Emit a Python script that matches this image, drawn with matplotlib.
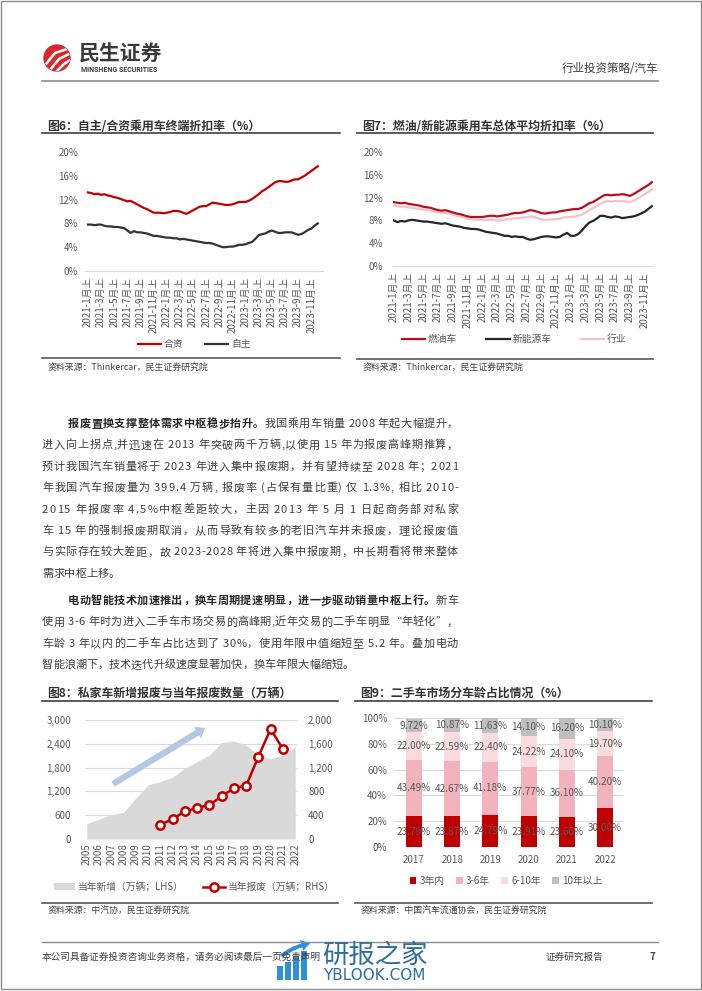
import matplotlib
matplotlib.use('Agg')
import matplotlib.pyplot as plt
import numpy as np
from matplotlib.patches import Circle, FancyArrowPatch, Rectangle
from matplotlib.font_manager import FontProperties
from matplotlib.ticker import FuncFormatter

plt.rcParams['font.family'] = ['Noto Sans CJK SC', 'DejaVu Sans']
plt.rcParams['axes.unicode_minus'] = False

W, H = 702, 991
GRAY_TXT = '#595959'
DARK = '#404040'

# ---------------- data ----------------
# 图6 / 图7: semi-monthly, 2021-1月上 ... 2023-12月上
tick_labels_67 = ['2021-1月上', '2021-3月上', '2021-5月上', '2021-7月上', '2021-9月上', '2021-11月上',
                  '2022-1月上', '2022-3月上', '2022-5月上', '2022-7月上', '2022-9月上', '2022-11月上',
                  '2023-1月上', '2023-3月上', '2023-5月上', '2023-7月上', '2023-9月上', '2023-11月上']

hezi = [13.2, 13.1, 12.9, 13.0, 12.8, 12.9, 12.7, 12.6, 12.4, 12.3, 12.1, 11.9, 11.7, 11.8, 11.5, 11.2,
        10.9, 10.6, 10.4, 10.1, 9.8, 9.8, 9.8, 9.7, 9.8, 9.9, 10.1, 10.1, 10.0, 9.8, 9.6, 9.9,
        10.2, 10.5, 10.8, 10.9, 10.9, 11.2, 11.5, 11.4, 11.3, 11.2, 11.1, 11.1, 11.2, 11.4, 11.6, 11.6,
        11.6, 11.8, 12.1, 12.5, 12.9, 13.4, 13.7, 14.1, 14.5, 14.9, 15.1, 15.1, 15.0, 15.0, 15.2, 15.4,
        15.4, 15.7, 16.0, 16.4, 16.8, 17.2, 17.6]
zizhu = [7.8, 7.8, 7.7, 7.8, 7.8, 7.6, 7.5, 7.5, 7.4, 7.4, 7.3, 7.2, 6.8, 6.4, 6.7, 6.5,
         6.5, 6.4, 6.3, 6.1, 5.9, 5.9, 5.8, 5.7, 5.6, 5.6, 5.5, 5.5, 5.3, 5.4, 5.3, 5.2,
         5.1, 5.0, 4.9, 4.8, 4.7, 4.7, 4.6, 4.4, 4.2, 4.0, 4.0, 4.1, 4.1, 4.2, 4.4, 4.4,
         4.5, 4.7, 4.9, 5.4, 6.0, 6.2, 6.3, 6.6, 6.8, 6.6, 6.4, 6.4, 6.5, 6.5, 6.5, 6.3,
         6.1, 6.2, 6.5, 6.9, 7.1, 7.6, 8.0]

ranyou = [11.2, 11.1, 11.0, 11.1, 10.9, 10.8, 10.7, 10.6, 10.4, 10.3, 10.2, 10.0, 9.8, 9.7, 9.8, 9.6,
          9.4, 9.2, 9.1, 8.9, 8.7, 8.6, 8.6, 8.6, 8.6, 8.7, 8.8, 8.8, 8.7, 8.8, 8.9, 9.0,
          9.2, 9.3, 9.3, 9.4, 9.6, 9.8, 9.7, 9.5, 9.3, 9.2, 9.3, 9.4, 9.4, 9.6, 9.7, 9.8,
          9.9, 10.0, 10.0, 10.2, 10.6, 11.0, 11.2, 11.6, 12.0, 12.4, 12.5, 12.4, 12.5, 12.5, 12.6, 12.5,
          12.3, 12.6, 13.0, 13.4, 13.8, 14.2, 14.7]
xinnengyuan = [8.0, 7.7, 7.9, 7.8, 8.0, 8.1, 8.0, 7.9, 7.8, 7.8, 7.7, 7.6, 7.5, 7.4, 7.5, 7.3,
               7.1, 7.0, 6.9, 6.7, 6.6, 6.5, 6.5, 6.4, 6.2, 6.0, 5.9, 5.8, 5.7, 5.5, 5.3, 5.3,
               5.1, 5.2, 5.1, 5.1, 4.8, 4.6, 4.7, 4.9, 5.1, 5.2, 5.2, 5.1, 5.0, 5.1, 5.5, 5.8,
               5.3, 5.3, 5.6, 6.2, 7.0, 7.6, 7.9, 8.3, 8.8, 8.8, 8.6, 8.5, 8.7, 8.6, 8.4, 8.5,
               8.6, 8.7, 8.9, 9.2, 9.5, 10.0, 10.5]
hangye = [10.6, 10.5, 10.4, 10.4, 10.3, 10.2, 10.1, 10.0, 9.9, 9.8, 9.7, 9.6, 9.4, 9.3, 9.3, 9.2,
          9.0, 8.8, 8.7, 8.5, 8.3, 8.2, 8.1, 8.1, 8.1, 8.1, 8.1, 8.1, 8.0, 8.0, 8.1, 8.2,
          8.3, 8.4, 8.4, 8.5, 8.6, 8.7, 8.6, 8.4, 8.2, 8.1, 8.1, 8.2, 8.2, 8.3, 8.5, 8.6,
          8.6, 8.7, 8.8, 9.0, 9.4, 9.8, 10.1, 10.5, 10.9, 11.2, 11.4, 11.3, 11.4, 11.4, 11.4, 11.3,
          11.2, 11.4, 11.8, 12.2, 12.6, 13.0, 13.4]

# 图8
years8 = ['2005', '2006', '2007', '2008', '2009', '2010', '2011', '2012', '2013',
          '2014', '2015', '2016', '2017', '2018', '2019', '2020', '2021', '2022']
new_add = [385, 503, 612, 670, 1030, 1366, 1450, 1560, 1785,
           1953, 2120, 2430, 2470, 2370, 2120, 2020, 2120, 2330]
scrap_years = ['2011', '2012', '2013', '2014', '2015', '2016', '2017', '2018', '2019', '2020', '2021']
scrap = [240, 335, 464, 520, 575, 715, 855, 894, 1385, 1850, 1508]

# 图9
years9 = ['2017', '2018', '2019', '2020', '2021', '2022']
age_names = ['3年内', '3-6年', '6-10年', '10年以上']
within3 = [23.79, 23.87, 24.79, 23.91, 23.60, 30.00]
y3to6 = [43.49, 42.67, 41.18, 37.77, 36.10, 40.20]
y6to10 = [22.00, 22.59, 22.40, 24.22, 24.10, 19.70]
over10 = [9.72, 10.87, 11.63, 14.10, 16.20, 10.10]
age_colors = ['#c00000', '#f2b3bf', '#fadbe0', '#bfbfbf']

# body text
para1 = [
    [('报废置换支撑整体需求中枢稳步抬升。', 'bold'), ('我国乘用车销量 2008 年起大幅提升，', 'normal')],
    [('进入向上拐点,并迅速在 2013 年突破两千万辆,以使用 15 年为报废高峰期推算，', 'normal')],
    [('预计我国汽车销量将于 2023 年进入集中报废期，并有望持续至 2028 年；2021', 'normal')],
    [('年我国汽车报废量为 399.4 万辆, 报废率 (占保有量比重) 仅 1.3%, 相比 2010-', 'normal')],
    [('2015 年报废率 4.5%中枢差距较大，主因 2013 年 5 月 1 日起商务部对私家', 'normal')],
    [('车 15 年的强制报废期取消，从而导致有较多的老旧汽车并未报废，理论报废值', 'normal')],
    [('与实际存在较大差距，故 2023-2028 年将进入集中报废期，中长期看将带来整体', 'normal')],
    [('需求中枢上移。', 'normal')],
]
para2 = [
    [('电动智能技术加速推出，换车周期提速明显，进一步驱动销量中枢上行。', 'bold'), ('新车', 'normal')],
    [('使用 3-6 年时为进入二手车市场交易的高峰期,近年交易的二手车明显“年轻化”，', 'normal')],
    [('车龄 3 年以内的二手车占比达到了 30%，使用年限中值缩短至 5.2 年。叠加电动', 'normal')],
    [('智能浪潮下，技术迭代升级速度显著加快，换车年限大幅缩短。', 'normal')],
]

# ---------------- figure ----------------
fig = plt.figure(figsize=(W / 100, H / 100), dpi=100)
fig.patch.set_facecolor('white')


def add_px(l, t, r, b):
    return fig.add_axes([l / W, 1 - b / H, (r - l) / W, (b - t) / H])


def style_ax(ax, ypad, xpad):
    for s in ['top', 'right', 'left']:
        ax.spines[s].set_visible(False)
    ax.spines['bottom'].set_color('#d9d9d9')
    ax.tick_params(axis='both', length=0, labelsize=7, colors=GRAY_TXT)
    ax.tick_params(axis='y', pad=ypad)
    ax.tick_params(axis='x', pad=xpad)


pct = FuncFormatter(lambda v, p: f'{v:.0f}%')

# 图6
ax6 = add_px(85, 152, 323, 271)
x6 = np.arange(len(hezi))
l_hz, = ax6.plot(x6, hezi, color='#c00000', lw=1.6)
l_zz, = ax6.plot(x6, zizhu, color='#333333', lw=1.6)
ax6.set_ylim(0, 20)
ax6.set_yticks(np.arange(0, 21, 4))
ax6.yaxis.set_major_formatter(pct)
ax6.set_xlim(-0.9, 71.6)
ax6.set_xticks(np.arange(0, len(hezi), 4))
ax6.set_xticklabels(tick_labels_67, rotation=90)
style_ax(ax6, 5, 4.5)
fig.legend([l_hz, l_zz], ['合资', '自主'], loc='center', bbox_to_anchor=(194 / W, 1 - 344 / H),
           ncol=2, frameon=False, fontsize=7, handlelength=2.4, columnspacing=2.2,
           handletextpad=0.3, labelcolor=GRAY_TXT)

# 图7
ax7 = add_px(393, 152, 653, 266)
x7 = np.arange(len(ranyou))
l_hy, = ax7.plot(x7, hangye, color='#f6c1c9', lw=1.6)
l_ny, = ax7.plot(x7, xinnengyuan, color='#262626', lw=1.6)
l_ry, = ax7.plot(x7, ranyou, color='#b80f1c', lw=1.6)
ax7.set_ylim(0, 20)
ax7.set_yticks(np.arange(0, 21, 4))
ax7.yaxis.set_major_formatter(pct)
ax7.set_xlim(-0.2, 70.3)
ax7.set_xticks(np.arange(0, len(ranyou), 4))
ax7.set_xticklabels(tick_labels_67, rotation=90)
style_ax(ax7, 7, 4.5)
fig.legend([l_ry, l_ny, l_hy], ['燃油车', '新能源车', '行业'], loc='center',
           bbox_to_anchor=(514 / W, 1 - 339 / H), ncol=3, frameon=False, fontsize=7,
           handlelength=2.4, columnspacing=3.0, handletextpad=0.3, labelcolor=GRAY_TXT)

# 图8
ax8 = add_px(85, 720, 297, 839)
x8 = np.arange(len(years8))
area = ax8.fill_between(x8, new_add, color='#d9d9d9', lw=0)
ax8.set_ylim(0, 3000)
ax8.set_yticks(np.arange(0, 3001, 600))
ax8.yaxis.set_major_formatter(FuncFormatter(lambda v, p: f'{v:,.0f}'))
ax8.set_xlim(-0.15, len(years8) - 0.85)
ax8.set_xticks(x8)
ax8.set_xticklabels(years8, rotation=90)
ax8.grid(axis='y', color='#d9d9d9', lw=0.8)
ax8.set_axisbelow(True)
style_ax(ax8, 10, 3)
ax8.spines['bottom'].set_visible(False)
ax8r = ax8.twinx()
xs = [years8.index(y) for y in scrap_years]
l_sc, = ax8r.plot(xs, scrap, color='#c00000', lw=1.8, marker='o', ms=6,
                  mfc='white', mec='#c00000', mew=1.8)
ax8r.set_ylim(0, 2000)
ax8r.set_yticks(np.arange(0, 2001, 400))
ax8r.yaxis.set_major_formatter(FuncFormatter(lambda v, p: f'{v:,.0f}'))
for s in ax8r.spines.values():
    s.set_visible(False)
ax8r.tick_params(axis='y', length=0, labelsize=7, colors=GRAY_TXT, pad=8)
fig.legend([area, l_sc], ['当年新增（万辆；LHS）', '当年报废（万辆；RHS）'], loc='center',
           bbox_to_anchor=(194 / W, 1 - 887 / H), ncol=2, frameon=False, fontsize=7,
           handlelength=2.2, columnspacing=2.0, handletextpad=0.3, labelcolor=GRAY_TXT)

# 图9
ax9 = add_px(394, 718, 623, 847)
x9 = np.arange(len(years9))
bottom = np.zeros(len(years9))
bars = []
for vals, name, c in zip([within3, y3to6, y6to10, over10], age_names, age_colors):
    b = ax9.bar(x9, vals, 0.42, bottom=bottom, color=c, zorder=2)
    bars.append(b)
    for xi, v, b0 in zip(x9, vals, bottom):
        ax9.text(xi, b0 + v / 2, f'{v:.2f}%', ha='center', va='center', fontsize=7.2,
                 color=GRAY_TXT, zorder=3)
    bottom = bottom + np.array(vals)
ax9.set_ylim(0, 100)
ax9.set_yticks(np.arange(0, 101, 20))
ax9.yaxis.set_major_formatter(pct)
ax9.set_xlim(-0.52, len(years9) - 0.53)
ax9.set_xticks(x9)
ax9.set_xticklabels(years9)
ax9.grid(axis='y', color='#d9d9d9', lw=0.8, zorder=0)
ax9.set_axisbelow(True)
style_ax(ax9, 5, 5.5)
ax9.spines['bottom'].set_visible(False)
fig.legend(bars, age_names, loc='center', bbox_to_anchor=(506 / W, 1 - 881 / H), ncol=4,
           frameon=False, fontsize=7, handlelength=0.7, handleheight=0.7,
           columnspacing=1.2, handletextpad=0.3, labelcolor=GRAY_TXT)

# ---------------- page layer (pixel coords) ----------------
pg = fig.add_axes([0, 0, 1, 1], zorder=10)
pg.set_xlim(0, W)
pg.set_ylim(H, 0)
pg.axis('off')

# border
pg.add_patch(Rectangle((0.8, 0.8), W - 2.2, H - 2.6, fill=False, ec='#8c8c8c', lw=1))

# header
logo = Circle((57, 58), 13, color='#d42a2e')
pg.add_patch(logo)
for pts in [((46, 64), (55, 53), (67, 49)), ((50, 70), (59, 59), (69, 54)), ((57, 71), (64, 64), (70, 60))]:
    xs_, ys_ = zip(*pts)
    ln, = pg.plot(xs_, ys_, color='white', lw=1.8, solid_capstyle='round')
    ln.set_clip_path(logo)
pg.text(79, 54, '民生证券', fontsize=15, fontweight='bold', color='#3a3a3a', va='center')
pg.text(81, 70, 'MINSHENG SECURITIES', fontsize=5.0, fontweight='bold', color='#3a3a3a',
        va='center', family='Roboto')
pg.text(658, 69, '行业投资策略/汽车', fontsize=8.3, color=DARK, ha='right', va='center')
pg.plot([42, 658], [81, 81], color='#8c8c8c', lw=1.2)

# chart titles / rules / sources
for x0, x1, ty, uy, title in [(42, 340, 126, 133, '图6：自主/合资乘用车终端折扣率（%）'),
                              (357, 653, 126, 133, '图7：燃油/新能源乘用车总体平均折扣率（%）'),
                              (42, 338, 693, 701, '图8：私家车新增报废与当年报废数量（万辆）'),
                              (355, 652, 693, 701, '图9：二手车市场分车龄占比情况（%）')]:
    pg.text(x0 + 5, ty, title, fontsize=8.6, fontweight='bold', color='#333333', va='center')
    pg.plot([x0, x1], [uy, uy], color='#404040', lw=1.2)

for x0, x1, ly, sy, src in [(42, 340, 358, 368, '资料来源：Thinkercar，民生证券研究院'),
                            (357, 653, 359, 368, '资料来源：Thinkercar，民生证券研究院'),
                            (42, 338, 903, 911, '资料来源：中汽协，民生证券研究院'),
                            (355, 652, 903, 911, '资料来源：中国汽车流通协会，民生证券研究院')]:
    pg.plot([x0, x1], [ly, ly], color='#595959', lw=1.2)
    pg.text(x0 + 6, sy, src, fontsize=6.4, color=DARK, va='center')

# growth arrow on 图8
pg.add_patch(FancyArrowPatch((113, 784), (205, 728),
                             arrowstyle='simple,head_length=0.9,head_width=1.4,tail_width=0.65',
                             mutation_scale=7, color='#b3c8e3', lw=0, shrinkA=0, shrinkB=0))

# body text (justified, char by char)
FS = 8.0
renderer = fig.canvas.get_renderer()
_adv = {}


def advance(ch, weight):
    key = (ch, weight)
    if key not in _adv:
        prop = FontProperties(family=['Noto Sans CJK SC', 'DejaVu Sans'], size=FS, weight=weight)
        w1 = renderer.get_text_width_height_descent('国' + ch + '国', prop, ismath=False)[0]
        w0 = renderer.get_text_width_height_descent('国国', prop, ismath=False)[0]
        _adv[key] = w1 - w0
    return _adv[key]


def put_line(y, segs, x0, x1, justify):
    chars = [(ch, w) for text, w in segs for ch in text]
    widths = [advance(ch, w) for ch, w in chars]
    gap = (x1 - x0 - sum(widths)) / (len(chars) - 1) if justify else 0
    x = x0
    for (ch, w), wd in zip(chars, widths):
        if ch != ' ':
            pg.text(x, y, ch, fontsize=FS, fontweight=w, va='baseline', ha='left',
                    color='#262626' if w == 'bold' else DARK)
        x += wd + gap


TX0, TX1, INDENT, LS = 42, 458, 26, 21.4
for paragraph, y_first in [(para1, 423), (para2, 600)]:
    for i, segs in enumerate(paragraph):
        x0 = TX0 + (INDENT if i == 0 else 0)
        put_line(y_first + i * LS + 4, segs, x0, TX1, i < len(paragraph) - 1)

# footer
pg.plot([42, 658], [942, 942], color='#8c8c8c', lw=1)
pg.text(42, 957, '本公司具备证券投资咨询业务资格，请务必阅读最后一页免责声明', fontsize=6.9,
        color=DARK, va='center')
pg.text(546, 957, '证券研究报告', fontsize=6.9, color=DARK, va='center')
pg.text(650, 957, '7', fontsize=7, fontweight='bold', color=DARK, va='center')

# watermark
for bx, top in [(277, 966), (285, 962), (293, 957), (301, 951)]:
    pg.add_patch(Rectangle((bx, top), 6, 980 - top, color='#2f8fd8', lw=0))
pg.add_patch(FancyArrowPatch((279, 958), (313, 943),
                             arrowstyle='simple,head_length=0.8,head_width=1.0,tail_width=0.35',
                             mutation_scale=8, color='#2f8fd8', lw=0,
                             connectionstyle='arc3,rad=-0.15'))
pg.text(322, 955, '研报之家', fontsize=19, color='#2d6da3', va='center')
pg.text(323, 975, 'YBLOOK.COM', fontsize=11, color='#2d6da3', va='center', family='DejaVu Sans')

fig.savefig('out.png', dpi=100)
